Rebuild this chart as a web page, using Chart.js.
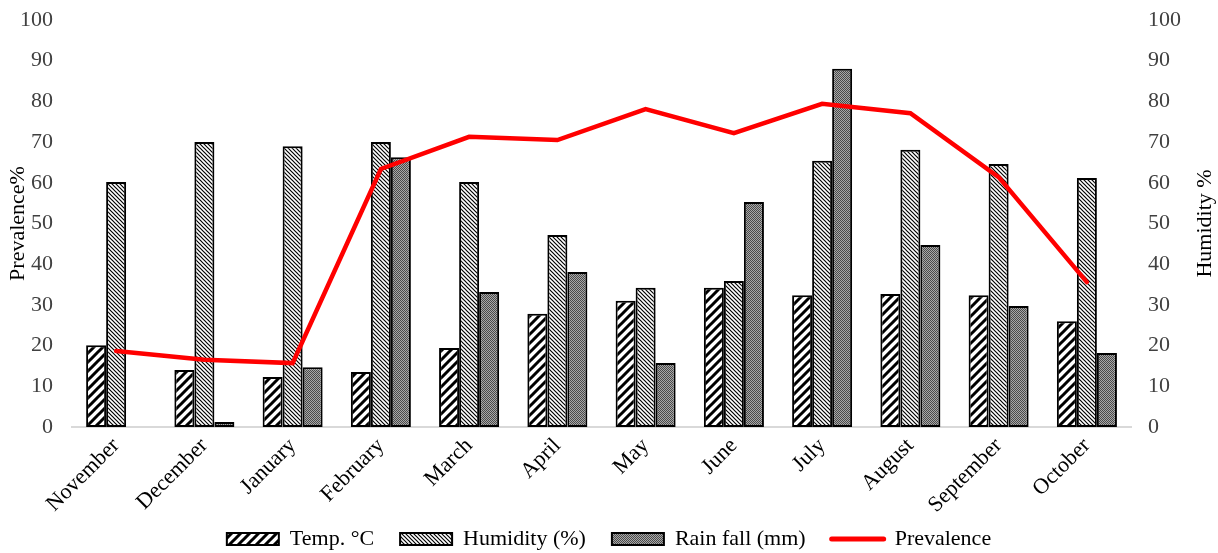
<!DOCTYPE html>
<html>
<head>
<meta charset="utf-8">
<script src="https://cdn.jsdelivr.net/npm/chart.js@4.4.1/dist/chart.umd.min.js"></script>
<style>
  html, body { margin: 0; padding: 0; background: #ffffff; }
  #wrap { width: 1218px; height: 553px; }
</style>
</head>
<body>
<div id="wrap"><canvas id="chart" width="1218" height="553"></canvas></div>
<script>
// Monthly climate readings and disease prevalence
const months = ['November', 'December', 'January', 'February', 'March', 'April',
                'May', 'June', 'July', 'August', 'September', 'October'];
const temperature = [20.1, 14.0, 12.3, 13.5, 19.4, 27.8, 31.0, 34.2, 32.4, 32.7, 32.4, 26.0];
const humidity    = [60.2, 70.0, 69.0, 70.0, 60.2, 47.2, 34.2, 35.9, 65.4, 68.1, 64.6, 61.2];
const rainfall    = [0, 1.2, 14.7, 66.3, 33.2, 38.1, 15.7, 55.3, 88.0, 44.7, 29.7, 18.2];
const prevalence  = [18.7, 16.5, 15.7, 63.4, 71.3, 70.5, 78.1, 72.2, 79.4, 77.1, 61.4, 35.6];
const axisTicks   = [0, 10, 20, 30, 40, 50, 60, 70, 80, 90, 100];
const seriesNames = ['Temp. °C', 'Humidity (%)', 'Rain fall (mm)', 'Prevalence'];
const leftAxisTitle = 'Prevalence%';
const rightAxisTitle = 'Humidity %';

const FONT = '"Liberation Serif", "Times New Roman", serif';

// Fill patterns for the bars
function makeTile(size, paint) {
  const c = document.createElement('canvas');
  c.width = size; c.height = size;
  const g = c.getContext('2d');
  g.fillStyle = '#ffffff';
  g.fillRect(0, 0, size, size);
  paint(g, size);
  return document.createElement('canvas').getContext('2d').createPattern(c, 'repeat');
}
// wide forward diagonal stripes
const tempFill = makeTile(9, (g, s) => {
  g.strokeStyle = '#000000'; g.lineWidth = 3;
  g.beginPath();
  for (let k = -1; k <= 1; k++) {
    g.moveTo(k * s - s, 2 * s); g.lineTo(k * s + 2 * s, -s);
  }
  g.stroke();
});
// narrow backward diagonal stripes
const humidFill = makeTile(4, (g, s) => {
  g.strokeStyle = '#000000'; g.lineWidth = 1.2;
  g.beginPath();
  for (let k = -1; k <= 1; k++) {
    g.moveTo(k * s - s, -s); g.lineTo(k * s + 2 * s, 2 * s);
  }
  g.stroke();
});
// fine grey dots
const rainFill = makeTile(2, (g) => {
  g.fillStyle = '#a8a8a8'; g.fillRect(0, 0, 2, 2);
  g.fillStyle = '#4a4a4a'; g.fillRect(0, 0, 1, 1); g.fillRect(1, 1, 1, 1);
});

const setTicks = (scale) => { scale.ticks = axisTicks.map(v => ({ value: v })); };

// fixed side-axis width; the end labels only need half a line of room
const fixSideAxis = (width) => (s) => {
  s.width = width;
  s.paddingTop = 12;
  s.paddingBottom = 12;
};

const rightTitlePlugin = {
  id: 'rightTitle',
  afterDraw(chart) {
    const ctx = chart.ctx;
    const area = chart.chartArea;
    ctx.save();
    ctx.translate(1205, (area.top + area.bottom) / 2);
    ctx.rotate(-Math.PI / 2);
    ctx.font = '22px ' + FONT;
    ctx.fillStyle = '#000000';
    ctx.textAlign = 'center';
    ctx.textBaseline = 'middle';
    ctx.fillText(rightAxisTitle, 0, 0);
    ctx.restore();
  }
};

new Chart(document.getElementById('chart'), {
  data: {
    labels: months,
    datasets: [
      { type: 'bar', label: seriesNames[0], data: temperature, yAxisID: 'y',
        backgroundColor: tempFill, borderColor: '#000000', borderWidth: 2, borderSkipped: false },
      { type: 'bar', label: seriesNames[1], data: humidity, yAxisID: 'y1',
        backgroundColor: humidFill, borderColor: '#000000', borderWidth: 2, borderSkipped: false },
      { type: 'bar', label: seriesNames[2], data: rainfall, yAxisID: 'y',
        backgroundColor: rainFill, borderColor: '#000000', borderWidth: 2, borderSkipped: false },
      { type: 'line', label: seriesNames[3], data: prevalence, yAxisID: 'y', order: -1,
        borderColor: '#ff0000', backgroundColor: '#ff0000', borderWidth: 4.5,
        pointRadius: 0, tension: 0, borderCapStyle: 'round' }
    ]
  },
  options: {
    responsive: false,
    animation: false,
    devicePixelRatio: 1,
    layout: { padding: { top: 20, right: 0, bottom: -7, left: 0 } },
    datasets: { bar: { categoryPercentage: 0.68, barPercentage: 1.0 } },
    scales: {
      x: {
        grid: { display: false, drawTicks: false },
        border: { display: true, color: '#d9d9d9', width: 2 },
        ticks: { minRotation: 45, maxRotation: 45, autoSkip: false, padding: 6,
                 color: '#000000', font: { family: FONT, size: 22 } },
        afterFit: (s) => {
          s.height = 75;
          // let the slanted month names run below the axis box
          s._computeLabelArea = () => undefined;
        }
      },
      y: {
        position: 'left', min: 0, max: 100,
        afterBuildTicks: setTicks,
        grid: { display: false, drawTicks: false },
        border: { display: false },
        ticks: { padding: 19, color: '#404040', font: { family: FONT, size: 22 } },
        title: { display: true, text: leftAxisTitle, color: '#000000',
                 padding: { top: 5, bottom: 0 }, font: { family: FONT, size: 22 } },
        afterFit: fixSideAxis(72)
      },
      y1: {
        position: 'right', min: 0, max: 100,
        afterBuildTicks: setTicks,
        grid: { display: false, drawTicks: false },
        border: { display: false },
        ticks: { padding: 17, color: '#404040', font: { family: FONT, size: 22 } },
        afterFit: fixSideAxis(87)
      }
    },
    plugins: {
      tooltip: { enabled: false },
      legend: {
        position: 'bottom',
        labels: {
          usePointStyle: true,
          pointStyleWidth: 52,
          boxHeight: 12,
          padding: 26,
          color: '#000000',
          font: { family: FONT, size: 22 },
          generateLabels(chart) {
            return chart.data.datasets.map((ds, i) => ({
              text: ds.label,
              datasetIndex: i,
              fillStyle: ds.type === 'line' ? ds.borderColor : ds.backgroundColor,
              strokeStyle: ds.borderColor,
              lineWidth: ds.type === 'line' ? 5 : 2,
              lineCap: 'round',
              pointStyle: ds.type === 'line' ? 'line' : 'rect',
              hidden: !chart.isDatasetVisible(i),
              fontColor: '#000000'
            }));
          }
        }
      }
    }
  },
  plugins: [rightTitlePlugin]
});
</script>
</body>
</html>
